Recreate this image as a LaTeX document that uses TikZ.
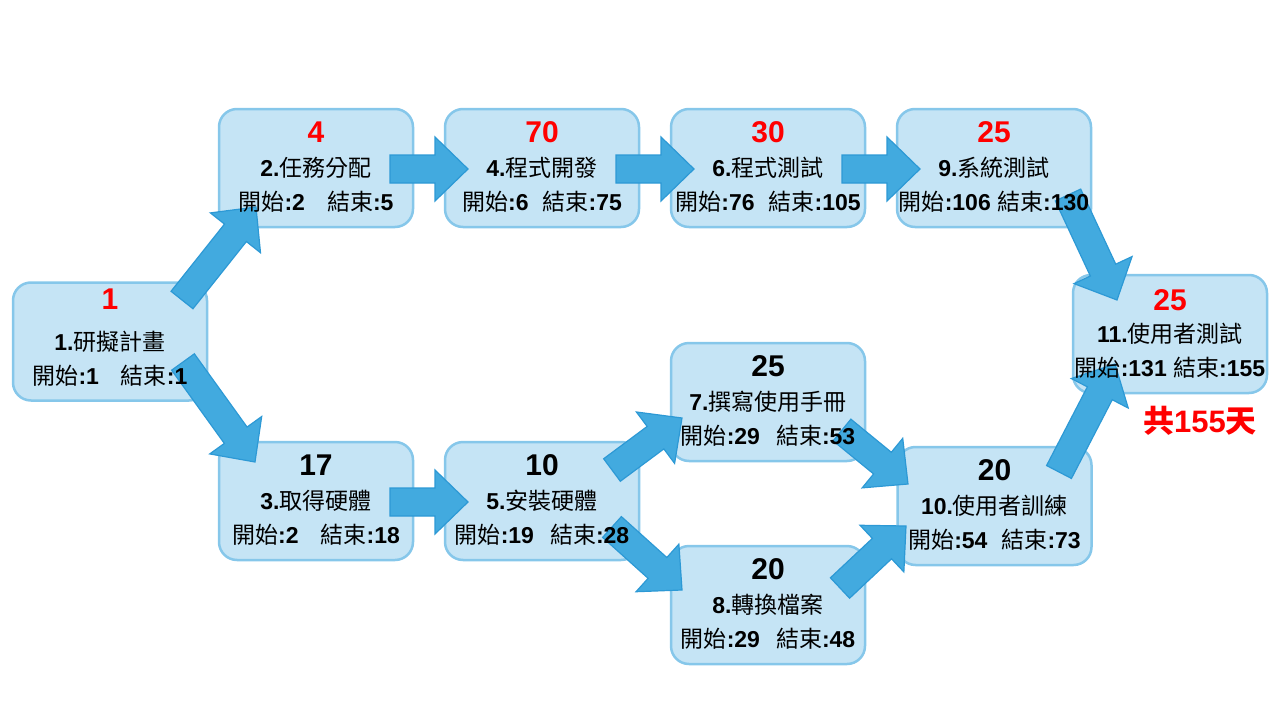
\documentclass[tikz,border=0pt]{standalone}
\usepackage{fontspec}
\setmainfont{Liberation Sans}
\newfontfamily\cjk{Noto Sans CJK TC}
\usetikzlibrary{calc}
\definecolor{boxfill}{HTML}{C5E4F5}
\definecolor{boxline}{HTML}{86C7EA}
\definecolor{arrfill}{HTML}{42AADF}
\definecolor{arrline}{HTML}{2D99D5}
\newcommand\zh[1]{{\cjk\mdseries #1}}
\newcommand\blockarrow[2]{%
  \coordinate (ta) at #1;
  \coordinate (tb) at #2;
  \coordinate (tc) at ($(tb)!33pt!(ta)$);
  \draw[barrow] ($(ta)!14pt!90:(tb)$) -- ($(tc)!14pt!-90:(ta)$) -- ($(tc)!32pt!-90:(ta)$)
    -- (tb) -- ($(tc)!32pt!90:(ta)$) -- ($(tc)!14pt!90:(ta)$) -- ($(ta)!14pt!-90:(tb)$) -- cycle;}
\newcommand\tasklabels[6]{%
  \node[#2, anchor=base] (#1n) at ($(#1.north)+(0,#6)$) {#3};
  \node[lbl, anchor=base] (#1t) at ($(#1.north)+(0,69)$) {#4};
  \node[lbl, anchor=base] (#1d) at ($(#1.north)+(0,103)$) {#5};}
\begin{document}
\begin{tikzpicture}[x=1pt,y=-1pt,
  task/.style={draw=boxline, fill=boxfill, line width=2.5pt, rounded corners=18pt,
    minimum width=194pt, minimum height=118pt, inner sep=0pt},
  num/.style={font=\fontsize{30}{32}\selectfont\bfseries, text=black, inner sep=0pt},
  rednum/.style={num, text=red},
  lbl/.style={font=\fontsize{23}{25}\selectfont\bfseries, text=black, inner sep=0pt},
  barrow/.style={draw=arrline, fill=arrfill, line width=1.2pt, line join=miter}]
\useasboundingbox (0,0) rectangle (1280,720);

% boxes
\node[task] (b1) at (110,341.5) {};
\node[task] (b2) at (316,168) {};
\node[task] (b4) at (542,168) {};
\node[task] (b6) at (768,168) {};
\node[task] (b9) at (994,168) {};
\node[task] (b3) at (316,501) {};
\node[task] (b5) at (542,501) {};
\node[task] (b7) at (768,402) {};
\node[task] (b8) at (768,605) {};
\node[task] (b10) at (994.5,506) {};
\node[task] (b11) at (1170,334) {};

% arrows
\blockarrow{($(b1)+(72,-41.5)$)}{($(b2)+(-60,39)$)}
\blockarrow{($(b1)+(73,20.5)$)}{($(b3)+(-61,-39)$)}
\blockarrow{($(b2)+(74,1)$)}{($(b4)+(-74,1)$)}
\blockarrow{($(b4)+(74,1)$)}{($(b6)+(-74,1)$)}
\blockarrow{($(b6)+(74,1)$)}{($(b9)+(-74,1)$)}
\blockarrow{($(b3)+(74,1)$)}{($(b5)+(-74,1)$)}
\blockarrow{($(b5)+(70,-31)$)}{($(b7)+(-86,16)$)}
\blockarrow{($(b5)+(70,26)$)}{($(b8)+(-86,-15)$)}
\blockarrow{($(b7)+(74,28)$)}{($(b10)+(-86.5,-22)$)}
\blockarrow{($(b8)+(72,-17)$)}{($(b10)+(-88.5,20)$)}
\blockarrow{($(b9)+(74,27)$)}{($(b11)+(-53,-34)$)}
\blockarrow{($(b10)+(64.5,-34)$)}{($(b11)+(-55,30)$)}

% texts
\tasklabels{b1}{rednum}{1}{1.\zh{研擬計畫}}{\zh{開始}:1\hspace{22pt}\zh{結束}:1}{28}
\tasklabels{b2}{rednum}{4}{2.\zh{任務分配}}{\zh{開始}:2\hspace{22pt}\zh{結束}:5}{35}
\tasklabels{b4}{rednum}{70}{4.\zh{程式開發}}{\zh{開始}:6\hspace{14pt}\zh{結束}:75}{35}
\tasklabels{b6}{rednum}{30}{6.\zh{程式測試}}{\zh{開始}:76\hspace{14pt}\zh{結束}:105}{35}
\tasklabels{b9}{rednum}{25}{9.\zh{系統測試}}{\zh{開始}:106 \zh{結束}:130}{35}
\tasklabels{b3}{num}{17}{3.\zh{取得硬體}}{\zh{開始}:2\hspace{22pt}\zh{結束}:18}{35}
\tasklabels{b5}{num}{10}{5.\zh{安裝硬體}}{\zh{開始}:19\hspace{16pt}\zh{結束}:28}{35}
\tasklabels{b7}{num}{25}{7.\zh{撰寫使用手冊}}{\zh{開始}:29\hspace{16pt}\zh{結束}:53}{35}
\tasklabels{b8}{num}{20}{8.\zh{轉換檔案}}{\zh{開始}:29\hspace{16pt}\zh{結束}:48}{35}
\tasklabels{b10}{num}{20}{10.\zh{使用者訓練}}{\zh{開始}:54\hspace{14pt}\zh{結束}:73}{35}
\tasklabels{b11}{rednum}{25}{11.\zh{使用者測試}}{\zh{開始}:131 \zh{結束}:155}{37}

\node[font=\fontsize{31}{33}\selectfont\bfseries, text=red, inner sep=0pt] (total) at (1200,421)
  {{\cjk 共}155{\cjk 天}};
\end{tikzpicture}
\end{document}
